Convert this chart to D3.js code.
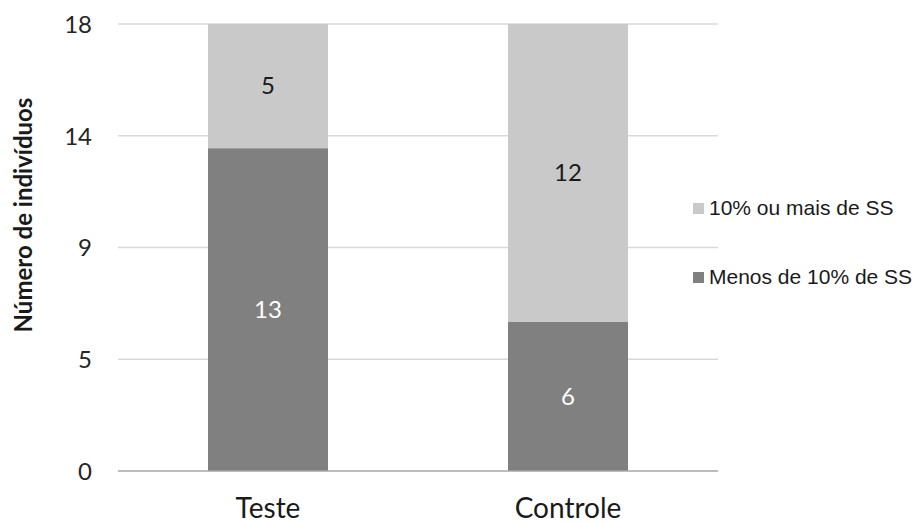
<!DOCTYPE html>
<html>
<head>
<meta charset="utf-8">
<script src="https://cdn.jsdelivr.net/npm/d3@7"></script>
<style>
  html, body { margin: 0; padding: 0; background: #fff; }
  svg { display: block; }
</style>
</head>
<body>
<svg id="chart" width="917" height="523"></svg>
<script>
// Stacked bar data: number of individuals per group
const categories = ["Teste", "Controle"];
const seriesNames = ["Menos de 10% de SS", "10% ou mais de SS"];
const menosValues = [13, 6];
const maisValues = [5, 12];
const yTicks = [0, 4.5, 9, 13.5, 18];
const yMax = 18;

const colors = { menos: "#808080", mais: "#c9c9c9" };
const fontMain = "Lato, 'Open Sans', sans-serif";

const svg = d3.select("#chart");
const plot = { left: 118, right: 718, top: 24, bottom: 471 };

const x = d3.scaleBand().domain(categories)
  .range([plot.left, plot.right]).paddingInner(0.6).paddingOuter(0.3);
const y = d3.scaleLinear().domain([0, yMax]).range([plot.bottom, plot.top]);

// gridlines
svg.append("g").selectAll("line").data(yTicks.filter(t => t > 0)).join("line")
  .attr("x1", plot.left).attr("x2", plot.right)
  .attr("y1", d => y(d)).attr("y2", d => y(d))
  .attr("stroke", "#d9d9d9").attr("stroke-width", 1.5);

// y axis labels (no domain line)
const yAxis = d3.axisLeft(y).tickValues(yTicks).tickSize(0).tickPadding(0)
  .tickFormat(d => d3.format(".0f")(Math.round(d)));
const gy = svg.append("g").attr("transform", `translate(${plot.left - 26},0)`).call(yAxis);
gy.select(".domain").remove();
gy.selectAll("text").attr("font-family", fontMain)
  .attr("font-size", 24).attr("fill", "#262626").attr("dy", "0.35em");

// stacked bars
const rows = categories.map((c, i) => ({ cat: c, menos: menosValues[i], mais: maisValues[i] }));
const stack = d3.stack().keys(["menos", "mais"])(rows);

const gBars = svg.append("g");
stack.forEach(layer => {
  gBars.append("g").selectAll("rect").data(layer).join("rect")
    .attr("x", d => x(d.data.cat))
    .attr("width", x.bandwidth())
    .attr("y", d => y(d[1]))
    .attr("height", d => y(d[0]) - y(d[1]))
    .attr("fill", colors[layer.key]);
});

// value labels
stack.forEach(layer => {
  svg.append("g").selectAll("text").data(layer).join("text")
    .attr("x", d => x(d.data.cat) + x.bandwidth() / 2)
    .attr("y", d => (y(d[0]) + y(d[1])) / 2)
    .attr("dy", "0.35em")
    .attr("text-anchor", "middle")
    .attr("font-family", fontMain)
    .attr("font-size", 24)
    .attr("fill", layer.key === "menos" ? "#ffffff" : "#1a1a1a")
    .text(d => d.data[layer.key]);
});

// baseline
svg.append("line")
  .attr("x1", plot.left).attr("x2", plot.right)
  .attr("y1", y(0)).attr("y2", y(0))
  .attr("stroke", "#a6a6a6").attr("stroke-width", 1.5);

// x axis labels
const xAxis = d3.axisBottom(x).tickSize(0).tickPadding(0);
const gx = svg.append("g").attr("transform", `translate(0,${plot.bottom + 37})`).call(xAxis);
gx.select(".domain").remove();
gx.selectAll("text").attr("font-family", fontMain)
  .attr("font-size", 28).attr("fill", "#1a1a1a").attr("dy", "0.35em");

// y axis title
svg.append("text")
  .attr("transform", `translate(24,215) rotate(-90)`)
  .attr("text-anchor", "middle").attr("dy", "0.35em")
  .attr("font-family", fontMain)
  .attr("font-weight", "bold").attr("font-size", 24).attr("fill", "#1a1a1a")
  .text("Número de indivíduos");

// legend
const legendItems = [
  { name: seriesNames[1], color: colors.mais, y: 208 },
  { name: seriesNames[0], color: colors.menos, y: 277 }
];
const gl = svg.append("g");
legendItems.forEach(it => {
  gl.append("rect").attr("x", 693).attr("y", it.y - 5).attr("width", 11).attr("height", 11)
    .attr("fill", it.color);
  gl.append("text").attr("x", 709).attr("y", it.y).attr("dy", "0.35em")
    .attr("font-family", "'Liberation Sans', Arial, sans-serif")
    .attr("font-size", 21).attr("fill", "#1a1a1a").text(it.name);
});
</script>
</body>
</html>
